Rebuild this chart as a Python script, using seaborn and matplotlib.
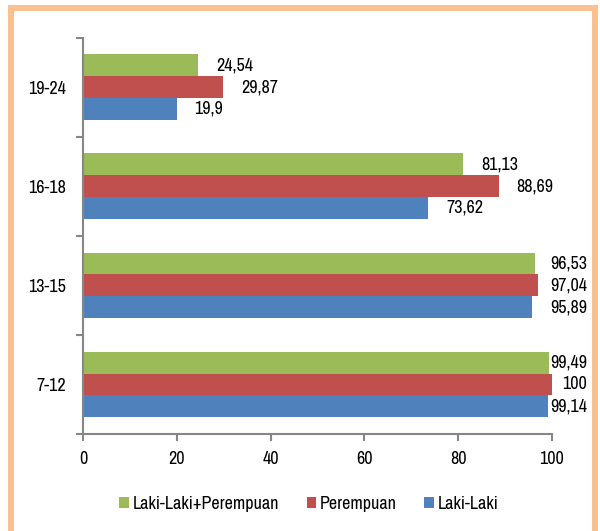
import matplotlib
matplotlib.use("Agg")
import matplotlib.pyplot as plt
import matplotlib.transforms as mtransforms
from matplotlib.patches import Rectangle
import seaborn as sns
import pandas as pd
import numpy as np

# Age groups (top to bottom) and school participation values per series
age_groups = ["19-24", "16-18", "13-15", "7-12"]
series_names = ["Laki-Laki+Perempuan", "Perempuan", "Laki-Laki"]
total_vals = [24.54, 81.13, 96.53, 99.49]
female_vals = [29.87, 88.69, 97.04, 100]
male_vals = [19.9, 73.62, 95.89, 99.14]
value_labels = {
    "Laki-Laki+Perempuan": ["24,54", "81,13", "96,53", "99,49"],
    "Perempuan": ["29,87", "88,69", "97,04", "100"],
    "Laki-Laki": ["19,9", "73,62", "95,89", "99,14"],
}
x_ticks = [0, 20, 40, 60, 80, 100]

colors = ["#9BBB59", "#C0504D", "#4F81BD"]
axis_grey = "#868686"
frame_orange = "#FAC090"
FS = 13

rows = []
for name, vals in zip(series_names, [total_vals, female_vals, male_vals]):
    for g, v in zip(age_groups, vals):
        rows.append({"Umur": g, "Seri": name, "Nilai": v})
df = pd.DataFrame(rows)

sns.set_theme(style="white")
plt.rcParams["font.family"] = ["Archivo Narrow", "Liberation Sans", "DejaVu Sans"]

W, H = 600, 531
fig = plt.figure(figsize=(W / 100, H / 100), dpi=100)
fig.patch.set_facecolor("white")
ax = fig.add_axes([83.3 / W, 1 - 434 / H, 468.4 / W, 396.5 / H])

sns.barplot(data=df, y="Umur", x="Nilai", hue="Seri", order=age_groups,
            hue_order=series_names, palette=colors, orient="h",
            width=0.66, dodge=True, saturation=1, ax=ax, linewidth=0)

ax.set_xlim(0, 100)
ax.set_ylim(3.5, -0.5)
ax.set_xlabel("")
ax.set_ylabel("")
ax.set_xticks(x_ticks)
ax.set_xticklabels([str(t) for t in x_ticks], fontsize=FS, color="black")
ax.tick_params(axis="x", which="major", bottom=True, length=5, width=1.5,
               color=axis_grey, direction="out", pad=7)
ax.tick_params(axis="x", which="minor", bottom=False, length=0)

# Tick marks between the age groups, names centred on each group
ax.set_yticks(np.arange(-0.5, len(age_groups), 1.0))
ax.set_yticklabels([""] * (len(age_groups) + 1))
ax.tick_params(axis="y", which="major", left=True, length=5, width=1.5,
               color=axis_grey, direction="out")
ax.set_yticks(np.arange(len(age_groups)), minor=True)
ax.set_yticklabels(age_groups, minor=True, fontsize=FS, color="black")
ax.tick_params(axis="y", which="minor", left=False, length=0, pad=12.5)

for side in ["top", "right"]:
    ax.spines[side].set_visible(False)
for side in ["left", "bottom"]:
    ax.spines[side].set_color(axis_grey)
    ax.spines[side].set_linewidth(1.5)
    ax.spines[side].set_zorder(3)
ax.set_facecolor("white")

# Value labels a little beyond each bar end, kept inside the chart area
fig.canvas.draw()
renderer = fig.canvas.get_renderer()
right_limit_px = 587
gap_px = 18
for container, name in zip(ax.containers, series_names):
    for bar, lab in zip(container, value_labels[name]):
        w = bar.get_width()
        yc = bar.get_y() + bar.get_height() / 2
        t = ax.text(w, yc, lab, ha="left", va="center", fontsize=FS,
                    color="black", clip_on=False)
        t.set_transform(ax.transData + mtransforms.ScaledTranslation(gap_px / 100, 0, fig.dpi_scale_trans))
        ext = t.get_window_extent(renderer)
        if ext.x1 > right_limit_px:
            shift = gap_px - (ext.x1 - right_limit_px)
            t.set_transform(ax.transData + mtransforms.ScaledTranslation(shift / 100, 0, fig.dpi_scale_trans))

leg = ax.legend(loc="center", bbox_to_anchor=(309 / W, 1 - 504 / H),
                bbox_transform=fig.transFigure, ncol=3, frameon=False,
                fontsize=FS, handlelength=0.55, handleheight=0.55,
                handletextpad=0.2, columnspacing=1.5)
for txt in leg.get_texts():
    txt.set_color("black")

# Chart frame
fig.patches.append(Rectangle((11 / W, -0.05), 584 / W, 1.05 - 8 / H,
                             transform=fig.transFigure, fill=False,
                             edgecolor=frame_orange, linewidth=4.3, zorder=0))

fig.savefig("out.png", dpi=100, facecolor="white")
